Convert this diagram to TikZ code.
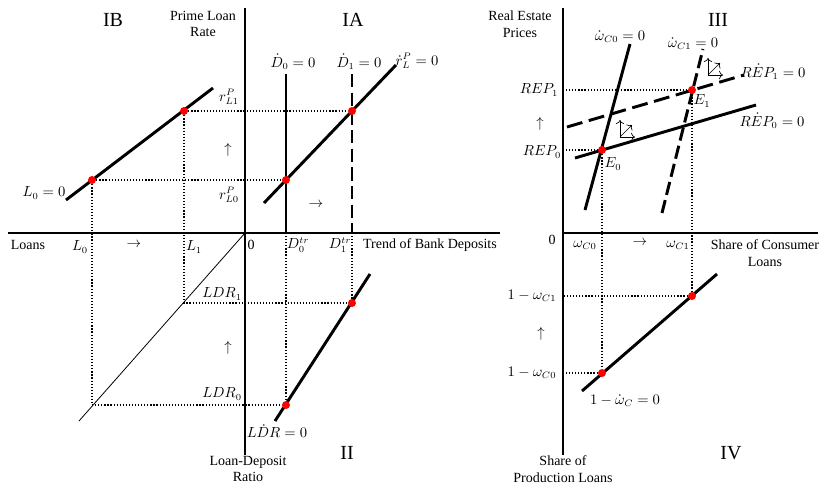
\documentclass[tikz,border=0pt]{standalone}
\usepackage{fontspec}
\setmainfont{Liberation Serif}
\usetikzlibrary{arrows.meta, backgrounds}
\tikzset{
  axisline/.style={line width=0.8pt},
  schedule/.style={line width=2.2pt},
  shifted/.style={schedule, dash pattern=on 10pt off 4pt},
  guide/.style={line width=0.9pt, dash pattern=on 0.9pt off 1.4pt},
  eqdot/.style={circle, fill=red, inner sep=0pt, minimum size=6pt},
  quadtext/.style={font=\fontsize{15}{18}\selectfont},
  dirarrow/.style={line width=0.5pt, -{To[length=3pt]}}
}
\begin{document}
\begin{tikzpicture}[x=0.75pt, y=-0.75pt, every node/.style={inner sep=1pt, font=\fontsize{10.5}{12.5}\selectfont}]
\useasboundingbox (0,0) rectangle (822,486);
% equilibrium points
\node[eqdot] (ib0) at (92,180) {};
\node[eqdot] (ib1) at (184,111) {};
\node[eqdot] (ia0) at (286,180) {};
\node[eqdot] (ia1) at (352,111) {};
\node[eqdot] (ii0) at (286,405) {};
\node[eqdot] (ii1) at (352,303) {};
\node[eqdot] (E0) at (602,150) {};
\node[eqdot] (E1) at (692,90) {};
\node[eqdot] (iv0) at (602,373) {};
\node[eqdot] (iv1) at (692,296) {};
\coordinate (c0) at (92,405);
\coordinate (c1) at (184,303);
\coordinate (d0) at (286,233);
\coordinate (d1) at (352,233);
\coordinate (rep0) at (563,150);
\coordinate (rep1) at (563,90);
\coordinate (om0) at (563,373);
\coordinate (om1) at (563,296);
\begin{pgfonlayer}{background}
  % left diagram axes
  \draw[axisline] (245,8) -- (245,455);
  \draw[axisline] (8,233) -- (500,233);
  % right diagram axes
  \draw[axisline] (563,8) -- (563,455);
  \draw[axisline] (563,233) -- (818,233);
  % schedules
  \draw[schedule] (66,200) -- (213,88);
  \draw[schedule] (264,203) -- (396,65);
  \draw[schedule] (286,74) -- (d0);
  \draw[shifted] (352,74) -- (d1);
  \draw[line width=0.6pt] (79,421) -- (245,233);
  \draw[schedule] (275,421) -- (370,274);
  \draw[schedule] (585,210) -- (630,44);
  \draw[shifted] (662,213) -- (703,49);
  \draw[schedule] (575,158) -- (756,105);
  \draw[schedule, dash pattern=on 12pt off 5pt] (567,127) -- (744,75);
  \draw[schedule] (582,391) -- (717,274);
  % dotted guides
  \draw[guide] (ib1) -- (ia1);
  \draw[guide] (ib0) -- (ia0);
  \draw[guide] (ib0) -- (c0) -- (ii0);
  \draw[guide] (ib1) -- (c1) -- (ii1);
  \draw[guide] (d0) -- (ii0);
  \draw[guide] (d1) -- (ii1);
  \draw[guide] (rep1) -- (E1) -- (iv1) -- (om1);
  \draw[guide] (rep0) -- (E0) -- (iv0) -- (om0);
\end{pgfonlayer}
% direction arrows
\coordinate (g0) at (620,137);
\coordinate (g1) at (708,75);
\foreach \g in {g0,g1} {
  \draw[dirarrow] (\g) -- ++(0,-17);
  \draw[dirarrow] (\g) -- ++(15,0);
  \draw[dirarrow] (\g) -- ++(12,-12);
}
% quadrant names
\foreach \x/\y/\t/\n in {113/20/IB/qIB, 353/20/IA/qIA, 347/453/II/qII,
  718/20/III/qIII, 731/453/IV/qIV}
  \node[quadtext] (\n) at (\x,\y) {\t};
% axis titles
\node[align=center] (prime) at (203,24) {Prime Loan\\Rate};
\node[align=center] (ldrtxt) at (248,469) {Loan-Deposit\\Ratio};
\node[align=center] (reptxt) at (520,24) {Real Estate\\Prices};
\node[align=center] (constxt) at (765,253) {Share of Consumer\\Loans};
\node[align=center] (prodtxt) at (563,469) {Share of\\Production Loans};
\node (loans) at (28,245) {Loans};
\node (trend) at (430,245) {Trend of Bank Deposits};
\node (zl) at (251,245) {0};
\node (zr) at (552,240) {0};
% left diagram labels
\foreach \x/\y/\t/\n in {
  229/97/{$r^{P}_{L1}$}/rl1, 229/195/{$r^{P}_{L0}$}/rl0,
  44/193/{$L_0=0$}/lzero, 80/247/{$L_0$}/l0, 194/247/{$L_1$}/l1,
  298/245/{$D^{tr}_0$}/dtr0, 340/245/{$D^{tr}_1$}/dtr1,
  293/62/{$\dot{D}_0=0$}/dd0, 359/62/{$\dot{D}_1=0$}/dd1,
  417/61/{$\dot{r}^{P}_{L}=0$}/drl,
  222/294/{$LDR_1$}/ldr1, 222/394/{$LDR_0$}/ldr0,
  277/431/{$L\dot{D}R=0$}/dldr}
  \node (\n) at (\x,\y) {\t};
% right diagram labels
\foreach \x/\y/\t/\n in {
  539/90/{$REP_1$}/rp1, 542/152/{$REP_0$}/rp0,
  620/37/{$\dot{\omega}_{C0}=0$}/dw0, 693/44/{$\dot{\omega}_{C1}=0$}/dw1,
  773/72/{$R\dot{E}P_1=0$}/drp1, 772/121/{$R\dot{E}P_0=0$}/drp0,
  613/164/{$E_0$}/e0, 702/101/{$E_1$}/e1,
  585/245/{$\omega_{C0}$}/w0, 678/245/{$\omega_{C1}$}/w1,
  532/296/{$1-\omega_{C1}$}/ow1, 532/373/{$1-\omega_{C0}$}/ow0,
  625/401/{$1-\dot{\omega}_{C}=0$}/dow}
  \node (\n) at (\x,\y) {\t};
% shift arrows
\foreach \x/\y/\t/\n in {
  228/150/{$\uparrow$}/up1, 134/245/{$\rightarrow$}/rt1,
  316/205/{$\rightarrow$}/rt2, 228/348/{$\uparrow$}/up2,
  540/124/{$\uparrow$}/up3, 640/243/{$\rightarrow$}/rt3,
  541/334/{$\uparrow$}/up4}
  \node (\n) at (\x,\y) {\t};
\end{tikzpicture}
\end{document}
